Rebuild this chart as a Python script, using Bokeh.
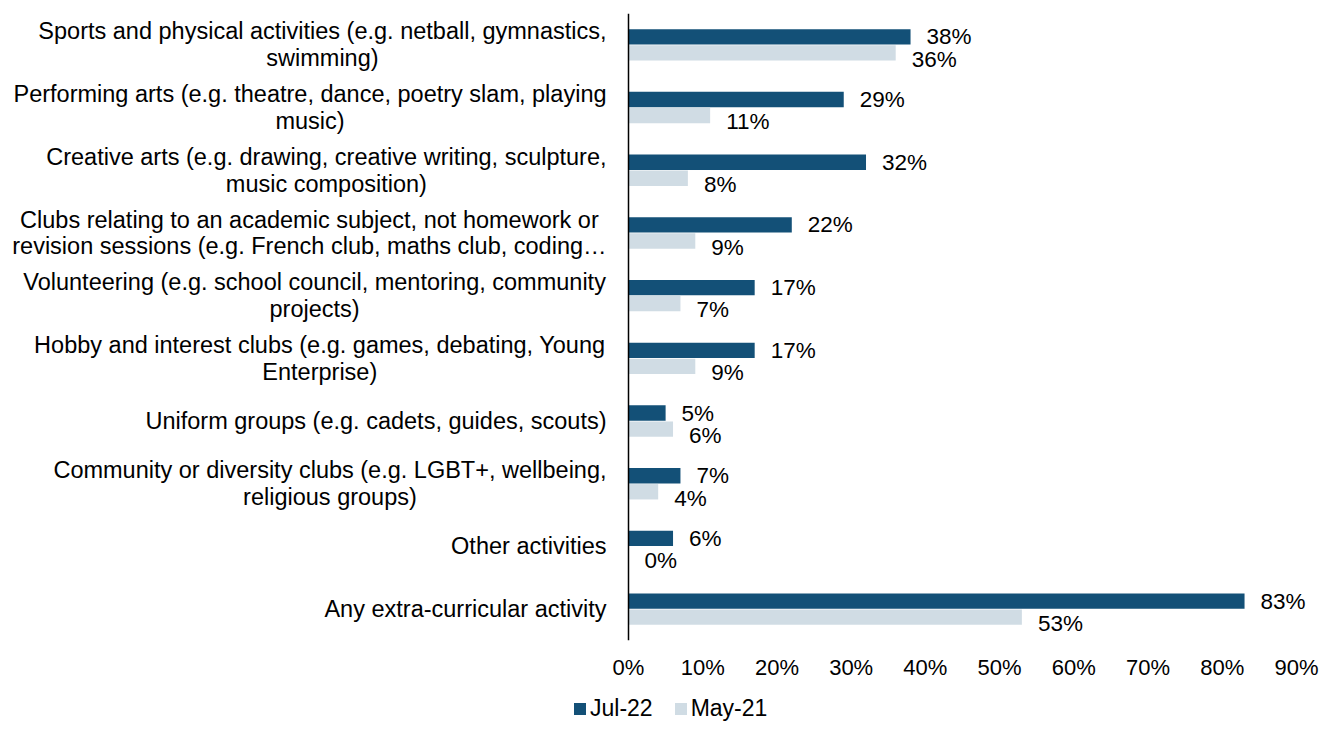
from bokeh.plotting import figure
from bokeh.layouts import column
from bokeh.models import (ColumnDataSource, FactorRange, Range1d, Span, Legend,
                          LegendItem, FixedTicker)
from bokeh.transform import dodge
from bokeh.core.properties import value
from bokeh.embed import file_html
from bokeh.resources import INLINE

# ---------------- data ----------------
categories = [
    "Sports and physical activities (e.g. netball, gymnastics,\nswimming)",
    "Performing arts (e.g. theatre, dance, poetry slam, playing\nmusic)",
    "Creative arts (e.g. drawing, creative writing, sculpture,\nmusic composition)",
    "Clubs relating to an academic subject, not homework or\nrevision sessions (e.g. French club, maths club, coding\u2026",
    "Volunteering (e.g. school council, mentoring, community\nprojects)",
    "Hobby and interest clubs (e.g. games, debating, Young\nEnterprise)",
    "Uniform groups (e.g. cadets, guides, scouts)",
    "Community or diversity clubs (e.g. LGBT+, wellbeing,\nreligious groups)",
    "Other activities",
    "Any extra-curricular activity",
]
jul22 = [38, 29, 32, 22, 17, 17, 5, 7, 6, 83]
may21 = [36, 11, 8, 9, 7, 9, 6, 4, 0, 53]
series_names = ["Jul-22", "May-21"]
tick_values = [0, 10, 20, 30, 40, 50, 60, 70, 80, 90]
tick_labels = ["0%", "10%", "20%", "30%", "40%", "50%", "60%", "70%", "80%", "90%"]

# ---------------- style ----------------
DARK = "#135077"
LIGHT = "#D0DCE4"
FONT = "Liberation Sans"
CAT_SIZE = 23.5
W = 1321
H_MAIN, H_LEG = 694, 28
PX0, PX90 = 628, 1296          # screen x of 0% and 90% inside the figure
scale = (PX90 - PX0) / 90.0
x_start = -PX0 / scale
x_end = (W - PX0) / scale

# Arial / Liberation Sans advance widths (1/1000 em) for centring wrapped labels
AW = {' ': 278, '(': 333, ')': 333, '+': 584, ',': 278, '-': 333, '.': 278, '\u2026': 1000,
      'A': 667, 'B': 667, 'C': 722, 'D': 722, 'E': 667, 'F': 611, 'G': 778, 'H': 722,
      'I': 278, 'J': 500, 'K': 667, 'L': 556, 'M': 833, 'N': 722, 'O': 778, 'P': 667,
      'Q': 778, 'R': 722, 'S': 667, 'T': 611, 'U': 722, 'V': 667, 'W': 944, 'X': 667,
      'Y': 667, 'Z': 611,
      'a': 556, 'b': 556, 'c': 500, 'd': 556, 'e': 556, 'f': 278, 'g': 556, 'h': 556,
      'i': 222, 'j': 222, 'k': 500, 'l': 222, 'm': 833, 'n': 556, 'o': 556, 'p': 556,
      'q': 556, 'r': 333, 's': 500, 't': 278, 'u': 556, 'v': 500, 'w': 722, 'x': 500,
      'y': 500, 'z': 500}


def tw(s, size):
    return sum(AW.get(c, 556) for c in s) / 1000.0 * size


cats_rev = list(reversed(categories))

p = figure(width=W, height=H_MAIN, x_range=Range1d(x_start, x_end),
           y_range=FactorRange(factors=cats_rev),
           y_axis_location=None, output_backend="svg", toolbar_location=None,
           min_border_left=0, min_border_right=0,
           min_border_top=13, min_border_bottom=54)
p.outline_line_color = None
p.grid.visible = False
p.background_fill_color = "white"
p.border_fill_color = "white"

src = ColumnDataSource(dict(
    cat=categories, jul=jul22, may=may21,
    jul_lbl=[f"{v}%" for v in jul22], may_lbl=[f"{v}%" for v in may21]))

BH = 0.245
DOD = 0.128
r1 = p.hbar(y=dodge("cat", DOD, range=p.y_range), right="jul", left=0, height=BH,
            source=src, fill_color=DARK, line_color=None)
r2 = p.hbar(y=dodge("cat", -DOD, range=p.y_range), right="may", left=0, height=BH,
            source=src, fill_color=LIGHT, line_color=None)

# value labels
p.text(x="jul", y=dodge("cat", DOD, range=p.y_range), text="jul_lbl", source=src,
       x_offset=16, text_align="left", text_baseline="middle",
       text_font=value(FONT), text_font_size="22.5px", text_color="#000000")
p.text(x="may", y=dodge("cat", -DOD - 0.1, range=p.y_range), text="may_lbl", source=src,
       x_offset=16, text_align="left", text_baseline="middle",
       text_font=value(FONT), text_font_size="22.5px", text_color="#000000")

# category labels (wrapped, block right-aligned to the axis, lines centred)
GAP = 22
top = dict(cat=[], line=[], xoff=[])
bot = dict(cat=[], line=[], xoff=[])
one = dict(cat=[], line=[], xoff=[])
for c in categories:
    lines = c.split("\n")
    bw = max(tw(l, CAT_SIZE) for l in lines)
    xo = -(GAP + bw / 2.0)
    if len(lines) == 1:
        one["cat"].append(c); one["line"].append(lines[0]); one["xoff"].append(xo)
    else:
        top["cat"].append(c); top["line"].append(lines[0]); top["xoff"].append(xo)
        bot["cat"].append(c); bot["line"].append(lines[1]); bot["xoff"].append(xo)

LO = 0.213
for d, off in ((top, LO), (bot, -LO), (one, 0.0)):
    p.text(x=0, y=dodge("cat", off, range=p.y_range), text="line", x_offset="xoff",
           source=ColumnDataSource(d), text_align="center", text_baseline="middle",
           text_font=value(FONT), text_font_size=f"{CAT_SIZE}px", text_color="#000000")

# vertical axis line at 0
p.add_layout(Span(location=0, dimension="height", line_color="#000000", line_width=1.5))

# x axis
ax = p.xaxis[0]
ax.ticker = FixedTicker(ticks=tick_values)
ax.major_label_overrides = {t: l for t, l in zip(tick_values, tick_labels)}
ax.axis_line_color = None
ax.major_tick_line_color = None
ax.minor_tick_line_color = None
ax.major_label_standoff = 8
ax.major_label_text_font = FONT
ax.major_label_text_font_size = "22px"
ax.major_label_text_color = "#000000"

# ---------------- legend strip ----------------
pl = figure(width=W, height=H_LEG, x_range=Range1d(0, 1), y_range=Range1d(0, 1),
            x_axis_location=None, y_axis_location=None, output_backend="svg",
            toolbar_location=None, min_border=0)
pl.outline_line_color = None
pl.grid.visible = False
pl.border_fill_color = "white"
l1 = pl.hbar(y=0, right="jul", left=0, height=0.5, source=src,
             fill_color=DARK, line_color=None, visible=False)
l2 = pl.hbar(y=0, right="may", left=0, height=0.5, source=src,
             fill_color=LIGHT, line_color=None, visible=False)
legend = Legend(items=[LegendItem(label=series_names[0], renderers=[l1]),
                       LegendItem(label=series_names[1], renderers=[l2])],
                location=(572, 0), orientation="horizontal",
                glyph_width=15, glyph_height=15, label_standoff=3, spacing=20,
                padding=0, margin=0, border_line_color=None, background_fill_alpha=0,
                label_text_font=FONT, label_text_font_size="23px",
                label_text_color="#000000")
pl.add_layout(legend)

layout = column(p, pl, spacing=0)
open("out.html", "w").write(file_html(layout, INLINE))
